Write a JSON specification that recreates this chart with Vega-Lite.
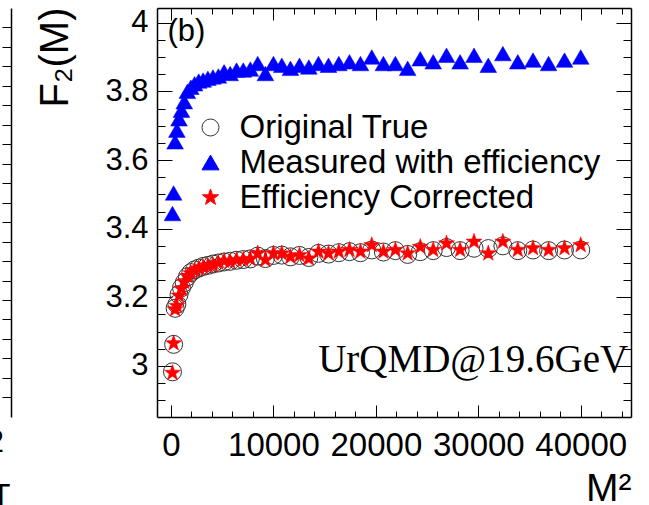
{
 "$schema": "https://vega.github.io/schema/vega-lite/v6.json",
 "width": 474,
 "height": 409,
 "autosize": {"type": "none"},
 "padding": {"left": 157, "top": 8, "right": 18, "bottom": 88},
 "background": "white",
 "datasets": {
  "orig": [
   {"M2":144,"F2":2.983},{"M2":256,"F2":3.063},{"M2":400,"F2":3.168},{"M2":576,"F2":3.180},{"M2":784,"F2":3.208},{"M2":1024,"F2":3.228},{"M2":1296,"F2":3.243},{"M2":1600,"F2":3.260},{"M2":1936,"F2":3.272},{"M2":2304,"F2":3.280},{"M2":2704,"F2":3.285},{"M2":3136,"F2":3.290},{"M2":3600,"F2":3.293},{"M2":4096,"F2":3.297},{"M2":4624,"F2":3.300},{"M2":5184,"F2":3.303},{"M2":5776,"F2":3.305},{"M2":6400,"F2":3.308},{"M2":7056,"F2":3.310},{"M2":7744,"F2":3.312},{"M2":8464,"F2":3.320},{"M2":9216,"F2":3.313},{"M2":10000,"F2":3.322},{"M2":10816,"F2":3.323},{"M2":11664,"F2":3.318},{"M2":12544,"F2":3.322},{"M2":13456,"F2":3.316},{"M2":14400,"F2":3.328},{"M2":15376,"F2":3.326},{"M2":16384,"F2":3.330},{"M2":17424,"F2":3.333},{"M2":18496,"F2":3.330},{"M2":19600,"F2":3.338},{"M2":20736,"F2":3.332},{"M2":21904,"F2":3.336},{"M2":23104,"F2":3.325},{"M2":24336,"F2":3.333},{"M2":25600,"F2":3.336},{"M2":26896,"F2":3.345},{"M2":28224,"F2":3.336},{"M2":29584,"F2":3.343},{"M2":30976,"F2":3.342},{"M2":32400,"F2":3.350},{"M2":33856,"F2":3.336},{"M2":35344,"F2":3.338},{"M2":36864,"F2":3.336},{"M2":38416,"F2":3.338},{"M2":40000,"F2":3.338}
  ],
  "meas": [
   {"M2":144,"F2":3.444},{"M2":256,"F2":3.504},{"M2":400,"F2":3.653},{"M2":576,"F2":3.687},{"M2":784,"F2":3.720},{"M2":1024,"F2":3.745},{"M2":1296,"F2":3.770},{"M2":1600,"F2":3.800},{"M2":1936,"F2":3.812},{"M2":2304,"F2":3.822},{"M2":2704,"F2":3.830},{"M2":3136,"F2":3.833},{"M2":3600,"F2":3.838},{"M2":4096,"F2":3.842},{"M2":4624,"F2":3.845},{"M2":5184,"F2":3.857},{"M2":5776,"F2":3.852},{"M2":6400,"F2":3.862},{"M2":7056,"F2":3.862},{"M2":7744,"F2":3.865},{"M2":8464,"F2":3.881},{"M2":9216,"F2":3.852},{"M2":10000,"F2":3.881},{"M2":10816,"F2":3.876},{"M2":11664,"F2":3.867},{"M2":12544,"F2":3.876},{"M2":13456,"F2":3.871},{"M2":14400,"F2":3.881},{"M2":15376,"F2":3.876},{"M2":16384,"F2":3.881},{"M2":17424,"F2":3.886},{"M2":18496,"F2":3.881},{"M2":19600,"F2":3.900},{"M2":20736,"F2":3.881},{"M2":21904,"F2":3.881},{"M2":23104,"F2":3.867},{"M2":24336,"F2":3.895},{"M2":25600,"F2":3.886},{"M2":26896,"F2":3.905},{"M2":28224,"F2":3.886},{"M2":29584,"F2":3.905},{"M2":30976,"F2":3.876},{"M2":32400,"F2":3.910},{"M2":33856,"F2":3.886},{"M2":35344,"F2":3.891},{"M2":36864,"F2":3.881},{"M2":38416,"F2":3.891},{"M2":40000,"F2":3.900}
  ],
  "corr": [
   {"M2":144,"F2":2.980},{"M2":256,"F2":3.066},{"M2":400,"F2":3.165},{"M2":576,"F2":3.175},{"M2":784,"F2":3.205},{"M2":1024,"F2":3.225},{"M2":1296,"F2":3.245},{"M2":1600,"F2":3.262},{"M2":1936,"F2":3.270},{"M2":2304,"F2":3.278},{"M2":2704,"F2":3.284},{"M2":3136,"F2":3.288},{"M2":3600,"F2":3.292},{"M2":4096,"F2":3.294},{"M2":4624,"F2":3.300},{"M2":5184,"F2":3.306},{"M2":5776,"F2":3.304},{"M2":6400,"F2":3.309},{"M2":7056,"F2":3.310},{"M2":7744,"F2":3.312},{"M2":8464,"F2":3.328},{"M2":9216,"F2":3.309},{"M2":10000,"F2":3.328},{"M2":10816,"F2":3.328},{"M2":11664,"F2":3.318},{"M2":12544,"F2":3.323},{"M2":13456,"F2":3.313},{"M2":14400,"F2":3.333},{"M2":15376,"F2":3.328},{"M2":16384,"F2":3.333},{"M2":17424,"F2":3.338},{"M2":18496,"F2":3.333},{"M2":19600,"F2":3.352},{"M2":20736,"F2":3.333},{"M2":21904,"F2":3.338},{"M2":23104,"F2":3.328},{"M2":24336,"F2":3.347},{"M2":25600,"F2":3.338},{"M2":26896,"F2":3.357},{"M2":28224,"F2":3.338},{"M2":29584,"F2":3.362},{"M2":30976,"F2":3.328},{"M2":32400,"F2":3.362},{"M2":33856,"F2":3.338},{"M2":35344,"F2":3.343},{"M2":36864,"F2":3.338},{"M2":38416,"F2":3.343},{"M2":40000,"F2":3.352}
  ]
 },
 "config": {
  "view": {"stroke": null},
  "font": "Liberation Sans",
  "axis": {"grid": false, "labelFont": "Liberation Sans", "labelFontSize": 31, "labelColor": "#000", "tickColor": "#000", "domainColor": "#000", "domainWidth": 1.5, "tickWidth": 1, "labelFlush": false, "labelOverlap": false, "labelBound": false, "titleFont": "Liberation Sans", "titleColor": "#000", "titleFontWeight": "normal"},
  "legend": {"orient": "none", "legendX": 37, "legendY": 103, "padding": 0, "labelFont": "Liberation Sans", "labelFontSize": 33, "labelColor": "#000", "labelLimit": 0, "symbolSize": 289, "labelOffset": 12.5, "rowPadding": 1, "symbolStrokeWidth": 1, "symbolOpacity": 1}
 },
 "resolve": {"axis": {"x": "independent", "y": "independent"}},
 "layer": [
  {
   "data": {"name": "orig"},
   "mark": {"type": "point", "filled": true, "strokeWidth": 1, "opacity": 1},
   "encoding": {
    "x": {"field": "M2", "type": "quantitative", "scale": {"domain": [-1367, 44908], "zero": false, "nice": false},
     "axis": {"orient": "bottom", "values": [0, 10000, 20000, 30000, 40000], "format": "d", "ticks": false, "domain": false, "labelPadding": 12, "labelFontSize": 33, "title": "M²", "titleFontSize": 39, "titleX": 474, "titleY": 83, "titleAlign": "right", "titleBaseline": "alphabetic"}},
    "y": {"field": "F2", "type": "quantitative", "scale": {"domain": [2.8514, 4.0428], "zero": false, "nice": false},
     "axis": {"orient": "left", "values": [3, 3.2, 3.4, 3.6, 3.8, 4], "format": ".1~f", "ticks": false, "domain": false, "labelPadding": 9, "title": "F₂(M)", "titleFontSize": 40, "titleAngle": -90, "titleX": -90, "titleY": -1, "titleAlign": "right", "titleBaseline": "alphabetic"}},
    "shape": {"datum": "Original True", "type": "nominal", "title": null, "scale": {"domain": ["Original True", "Measured with efficiency", "Efficiency Corrected"], "range": ["circle", "triangle-up", "M0,-1L0.235,-0.324L0.951,-0.309L0.38,0.124L0.588,0.809L0,0.4L-0.588,0.809L-0.38,0.124L-0.951,-0.309L-0.235,-0.324Z"]}},
    "fill": {"datum": "Original True", "type": "nominal", "title": null, "scale": {"domain": ["Original True", "Measured with efficiency", "Efficiency Corrected"], "range": ["rgba(0,0,0,0)", "#0000ff", "#ff0000"]}},
    "stroke": {"datum": "Original True", "type": "nominal", "title": null, "scale": {"domain": ["Original True", "Measured with efficiency", "Efficiency Corrected"], "range": ["#333333", "#0000ff", "#ff0000"]}},
    "size": {"value": 324}
   }
  },
  {
   "data": {"name": "meas"},
   "mark": {"type": "point", "filled": true, "strokeWidth": 0.5, "opacity": 1},
   "encoding": {
    "x": {"field": "M2", "type": "quantitative",
     "axis": {"orient": "bottom", "values": [0, 10000, 20000, 30000, 40000], "labels": false, "tickSize": -12, "domain": true, "title": null}},
    "y": {"field": "F2", "type": "quantitative",
     "axis": {"orient": "left", "values": [3, 3.2, 3.4, 3.6, 3.8, 4], "labels": false, "tickSize": -15, "domain": true, "title": null}},
    "shape": {"datum": "Measured with efficiency", "type": "nominal", "title": null},
    "fill": {"datum": "Measured with efficiency", "type": "nominal", "title": null},
    "stroke": {"datum": "Measured with efficiency", "type": "nominal", "title": null},
    "size": {"value": 280}
   }
  },
  {
   "data": {"name": "corr"},
   "mark": {"type": "point", "filled": true, "strokeWidth": 0.5, "opacity": 1},
   "encoding": {
    "x": {"field": "M2", "type": "quantitative",
     "axis": {"orient": "bottom", "values": [0, 2000, 4000, 6000, 8000, 10000, 12000, 14000, 16000, 18000, 20000, 22000, 24000, 26000, 28000, 30000, 32000, 34000, 36000, 38000, 40000, 42000, 44000], "labels": false, "tickSize": -6, "domain": false, "title": null}},
    "y": {"field": "F2", "type": "quantitative",
     "axis": {"orient": "left", "values": [2.9, 2.95, 3, 3.05, 3.1, 3.15, 3.2, 3.25, 3.3, 3.35, 3.4, 3.45, 3.5, 3.55, 3.6, 3.65, 3.7, 3.75, 3.8, 3.85, 3.9, 3.95, 4], "labels": false, "tickSize": -8, "domain": false, "title": null}},
    "shape": {"datum": "Efficiency Corrected", "type": "nominal", "title": null},
    "fill": {"datum": "Efficiency Corrected", "type": "nominal", "title": null},
    "stroke": {"datum": "Efficiency Corrected", "type": "nominal", "title": null},
    "size": {"value": 283}
   }
  },
  {
   "data": {"values": [{}]},
   "mark": {"type": "text", "text": "(b)", "align": "left", "baseline": "alphabetic", "font": "Liberation Sans", "fontSize": 31, "color": "#000"},
   "encoding": {
    "x": {"datum": -340, "type": "quantitative",
     "axis": {"orient": "top", "values": [0, 10000, 20000, 30000, 40000], "labels": false, "tickSize": -12, "domain": true, "title": null}},
    "y": {"datum": 3.9476, "type": "quantitative",
     "axis": {"orient": "right", "values": [3, 3.2, 3.4, 3.6, 3.8, 4], "labels": false, "tickSize": -15, "domain": true, "title": null}}
   }
  },
  {
   "data": {"values": [{}]},
   "mark": {"type": "text", "text": "UrQMD@19.6GeV", "align": "right", "baseline": "alphabetic", "font": "Liberation Serif", "fontSize": 39, "color": "#000"},
   "encoding": {
    "x": {"datum": 44630, "type": "quantitative",
     "axis": {"orient": "top", "values": [0, 2000, 4000, 6000, 8000, 10000, 12000, 14000, 16000, 18000, 20000, 22000, 24000, 26000, 28000, 30000, 32000, 34000, 36000, 38000, 40000, 42000, 44000], "labels": false, "tickSize": -6, "domain": false, "title": null}},
    "y": {"datum": 2.983, "type": "quantitative",
     "axis": {"orient": "right", "values": [2.9, 2.95, 3, 3.05, 3.1, 3.15, 3.2, 3.25, 3.3, 3.35, 3.4, 3.45, 3.5, 3.55, 3.6, 3.65, 3.7, 3.75, 3.8, 3.85, 3.9, 3.95, 4], "labels": false, "tickSize": -8, "domain": false, "title": null}}
   }
  },
  {
   "data": {"values": [{}]},
   "mark": {"type": "text", "text": "2", "align": "right", "baseline": "alphabetic", "font": "Liberation Sans", "fontSize": 31, "color": "#000"},
   "encoding": {
    "x": {"datum": -16309, "type": "quantitative", "axis": null},
    "y": {"datum": 2.7496, "type": "quantitative",
     "axis": {"orient": "left", "offset": 146, "values": [3.986, 3.9293, 3.8726, 3.816, 3.7592, 3.7026, 3.6459, 3.5892, 3.5325, 3.4758, 3.4191, 3.3624, 3.3057, 3.249, 3.1923, 3.1356, 3.079, 3.0222, 2.9656, 2.9089], "labels": false, "tickSize": 9, "domain": true, "title": null}}
   }
  },
  {
   "data": {"values": [{}]},
   "mark": {"type": "text", "text": "T", "align": "right", "baseline": "alphabetic", "font": "Liberation Sans", "fontSize": 31, "color": "#000"},
   "encoding": {
    "x": {"datum": -15674, "type": "quantitative", "axis": null},
    "y": {"datum": 2.592, "type": "quantitative", "axis": null}
   }
  }
 ]
}
